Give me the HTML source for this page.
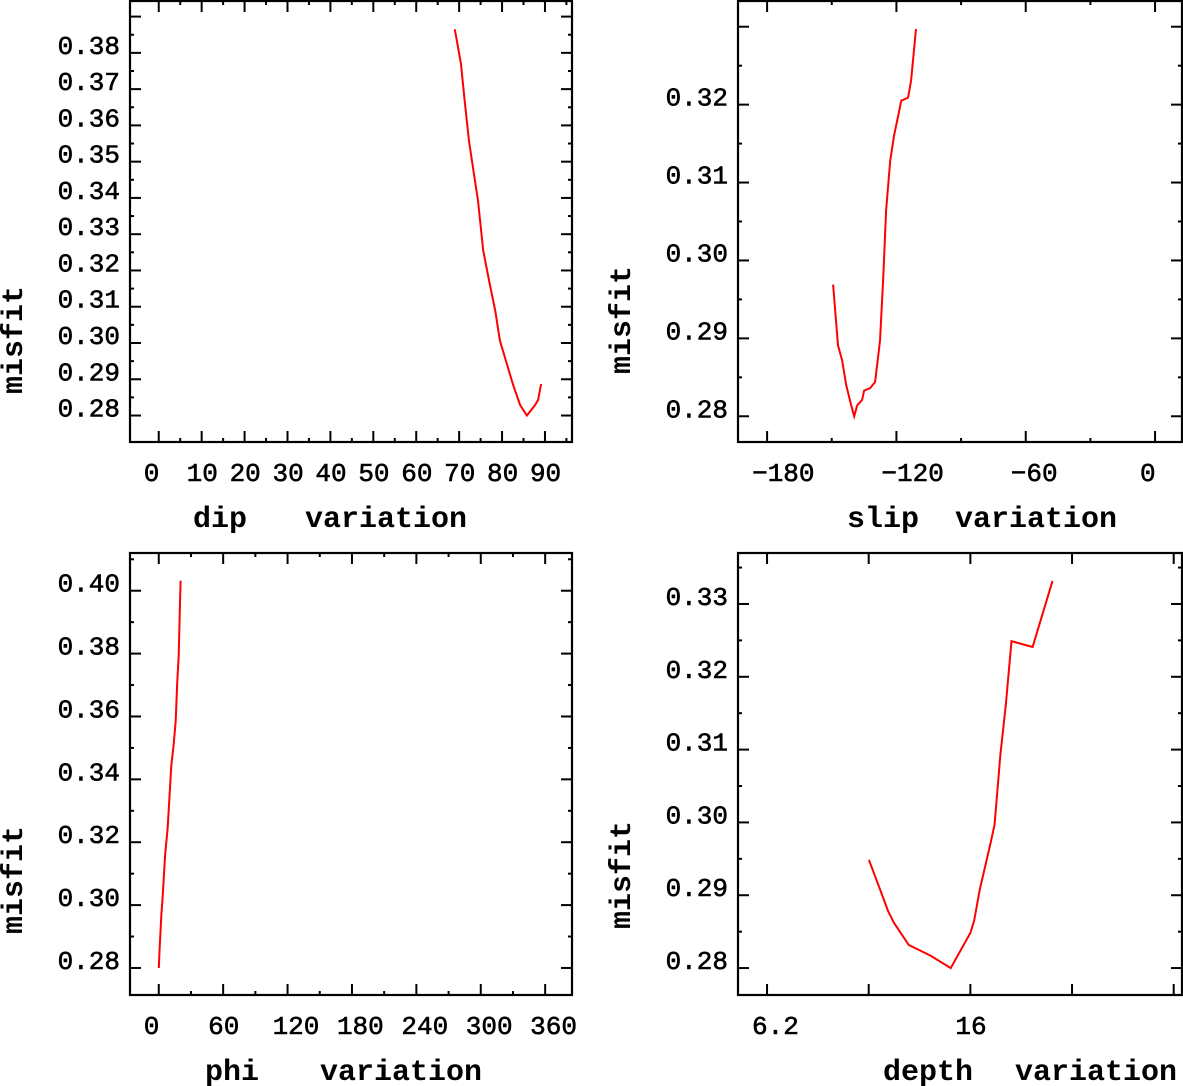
<!DOCTYPE html>
<html><head><meta charset="utf-8"><style>
html,body{margin:0;padding:0;background:#fff;}
svg{display:block;}
.tl{font-family:"Liberation Mono",monospace;font-size:26px;fill:#000;stroke:#000;stroke-width:0.6;}
.tt{font-family:"Liberation Mono",monospace;font-size:30px;font-weight:bold;fill:#000;}
</style></head><body>
<svg id="c" width="1183" height="1086" viewBox="0 0 1183 1086" xmlns="http://www.w3.org/2000/svg"></svg>
<script>
// dip panel
const dipX = [69.0,70.4,71.3,72.3,73.5,74.4,75.6,77.2,78.4,79.5,81.2,82.6,84.2,85.8,87.7,88.4,89.1];
const dipY = [0.3865,0.3771,0.3667,0.3557,0.3461,0.3393,0.3255,0.3159,0.3090,0.3007,0.2939,0.2884,0.2829,0.2800,0.2829,0.2843,0.2887];
const dipXTicks = ["0","10","20","30","40","50","60","70","80","90"];
const dipYTicks = ["0.28","0.29","0.30","0.31","0.32","0.33","0.34","0.35","0.36","0.37","0.38"];
// slip panel
const slipX = [-149.4,-147.1,-145.2,-143.3,-141.0,-139.6,-138.2,-135.9,-135.0,-132.2,-129.9,-127.6,-126.2,-124.8,-122.9,-121.1,-118.7,-117.8,-114.6,-113.2,-110.9];
const slipY = [0.2969,0.2891,0.2872,0.2840,0.2814,0.2800,0.2814,0.2821,0.2833,0.2836,0.2844,0.2897,0.2974,0.3064,0.3128,0.3160,0.3192,0.3205,0.3209,0.3231,0.3297];
const slipXTicks = ["−180","−120","−60","0"];
const slipYTicks = ["0.28","0.29","0.30","0.31","0.32"];
// phi panel
const phiX = [0,0.7,2.4,3.8,5.9,8.3,10.0,11.7,13.8,15.8,17.2,18.6,19.6,20.3];
const phiY = [0.28,0.2852,0.2967,0.3033,0.3159,0.3247,0.3345,0.3444,0.3509,0.3586,0.3706,0.3794,0.3937,0.4032];
const phiXTicks = ["0","60","120","180","240","300","360"];
const phiYTicks = ["0.28","0.30","0.32","0.34","0.36","0.38","0.40"];
// depth panel
const depthX = [11.11,11.50,12.04,12.31,13.03,14.11,15.05,16.0,16.18,16.45,16.99,17.17,17.44,17.71,17.98,19.0,19.96];
const depthY = [0.29485,0.29192,0.28780,0.28624,0.28317,0.28166,0.28,0.28483,0.28648,0.29074,0.29736,0.29973,0.30919,0.31628,0.32489,0.32409,0.33317];
const depthXTicks = ["6.2","16"];
const depthYTicks = ["0.28","0.29","0.30","0.31","0.32","0.33"];

const NS="http://www.w3.org/2000/svg";
const svg=document.getElementById('c');
function mk(tag,attrs,parent){const e=document.createElementNS(NS,tag);for(const k in attrs)e.setAttribute(k,attrs[k]);(parent||svg).appendChild(e);return e;}

function panel(o){
  const g=mk('g',{});
  
  
  const sx=v=>o.x0+(v-o.xmin)/(o.xmax-o.xmin)*(o.x1-o.x0);
  const sy=v=>o.y1-(v-o.ymin)/(o.ymax-o.ymin)*(o.y1-o.y0);
  const fr=mk('rect',{x:o.x0,y:o.y0,width:o.x1-o.x0,height:o.y1-o.y0,fill:'none',stroke:'#000','stroke-width':2.2},g);
  
  
  for(let v=o.xt0; v<=o.xmax+1e-9; v+=o.xminor){
    const k=Math.round((v-o.xt0)/o.xminor);
    const major=(k%o.xmajEvery===0);
    const L=major?11:4;const X=sx(v);
    mk('line',{x1:X,x2:X,y1:o.y1,y2:o.y1-L,stroke:'#000','stroke-width':2},g);
    mk('line',{x1:X,x2:X,y1:o.y0,y2:o.y0+L,stroke:'#000','stroke-width':2},g);
  }
  for(let v=o.yt0; v<=o.ymax+1e-9; v+=o.yminor){
    const k=Math.round((v-o.yt0)/o.yminor);
    const major=(k%o.ymajEvery===0);
    const L=major?11:4;const Y=sy(v);
    mk('line',{x1:o.x0,x2:o.x0+L,y1:Y,y2:Y,stroke:'#000','stroke-width':2},g);
    mk('line',{x1:o.x1,x2:o.x1-L,y1:Y,y2:Y,stroke:'#000','stroke-width':2},g);
  }
  o.xticks.forEach((s,i)=>{
    const v=o.xt0+i*o.xlabStep;
    const t=mk('text',{x:sx(v)-15,y:o.y1+39,class:'tl'},g);t.textContent=s;
    
    
  });
  o.yticks.forEach((s,i)=>{
    const v=o.yt0+i*o.ylabStep;
    const t=mk('text',{x:o.x0-10,y:sy(v)+1,class:'tl','text-anchor':'end'},g);t.textContent=s;
    
    
  });
  const pts=o.xs.map((v,i)=>sx(v).toFixed(1)+','+sy(o.ys[i]).toFixed(1)).join(' ');
  const pl=mk('polyline',{points:pts,fill:'none',stroke:'#ff0000','stroke-width':2},g);
  
  
  const yt=mk('text',{x:0,y:0,class:'tt','text-anchor':'middle',transform:`translate(${o.ytx},${o.yty}) rotate(-90)`},g);
  yt.textContent='misfit';
  
  
  o.xtitle.forEach(w=>{
    const t=mk('text',{x:w[1],y:o.y1+85,class:'tt'},g);t.textContent=w[0];
    
    
  });
}

panel({name:'dip',x0:130,x1:572,y0:1,y1:442,xmin:-6.7,xmax:96.3,ymin:0.2727,ymax:0.3943,
  xt0:0,xminor:5,xmajEvery:2,xlabStep:10,yt0:0.28,yminor:0.005,ymajEvery:2,ylabStep:0.01,
  xticks:dipXTicks,yticks:dipYTicks,xs:dipX,ys:dipY,ytx:22,yty:340,xtitle:[['dip',193],['variation',305]]});
panel({name:'slip',x0:738,x1:1182,y0:1,y1:442,xmin:-193.5,xmax:12.5,ymin:0.2767,ymax:0.3333,
  xt0:-180,xminor:30,xmajEvery:2,xlabStep:60,yt0:0.28,yminor:0.005,ymajEvery:2,ylabStep:0.01,
  xticks:slipXTicks,yticks:slipYTicks,xs:slipX,ys:slipY,ytx:630,yty:320,xtitle:[['slip',847],['variation',955]]});
panel({name:'phi',x0:130,x1:572,y0:553,y1:995,xmin:-26.8,xmax:385,ymin:0.2714,ymax:0.4120,
  xt0:0,xminor:30,xmajEvery:2,xlabStep:60,yt0:0.28,yminor:0.01,ymajEvery:2,ylabStep:0.02,
  xticks:phiXTicks,yticks:phiYTicks,xs:phiX,ys:phiY,ytx:22,yty:880,xtitle:[['phi',205],['variation',320]]});
panel({name:'depth',x0:738,x1:1182,y0:553,y1:995,xmin:4.80,xmax:26.2,ymin:0.2763,ymax:0.3370,
  xt0:6.2,xminor:4.9,xmajEvery:1,xlabStep:9.8,yt0:0.28,yminor:0.005,ymajEvery:2,ylabStep:0.01,
  xticks:depthXTicks,yticks:depthYTicks,xs:depthX,ys:depthY,ytx:630,yty:875,xtitle:[['depth',883],['variation',1015]]});
</script>
</body></html>
